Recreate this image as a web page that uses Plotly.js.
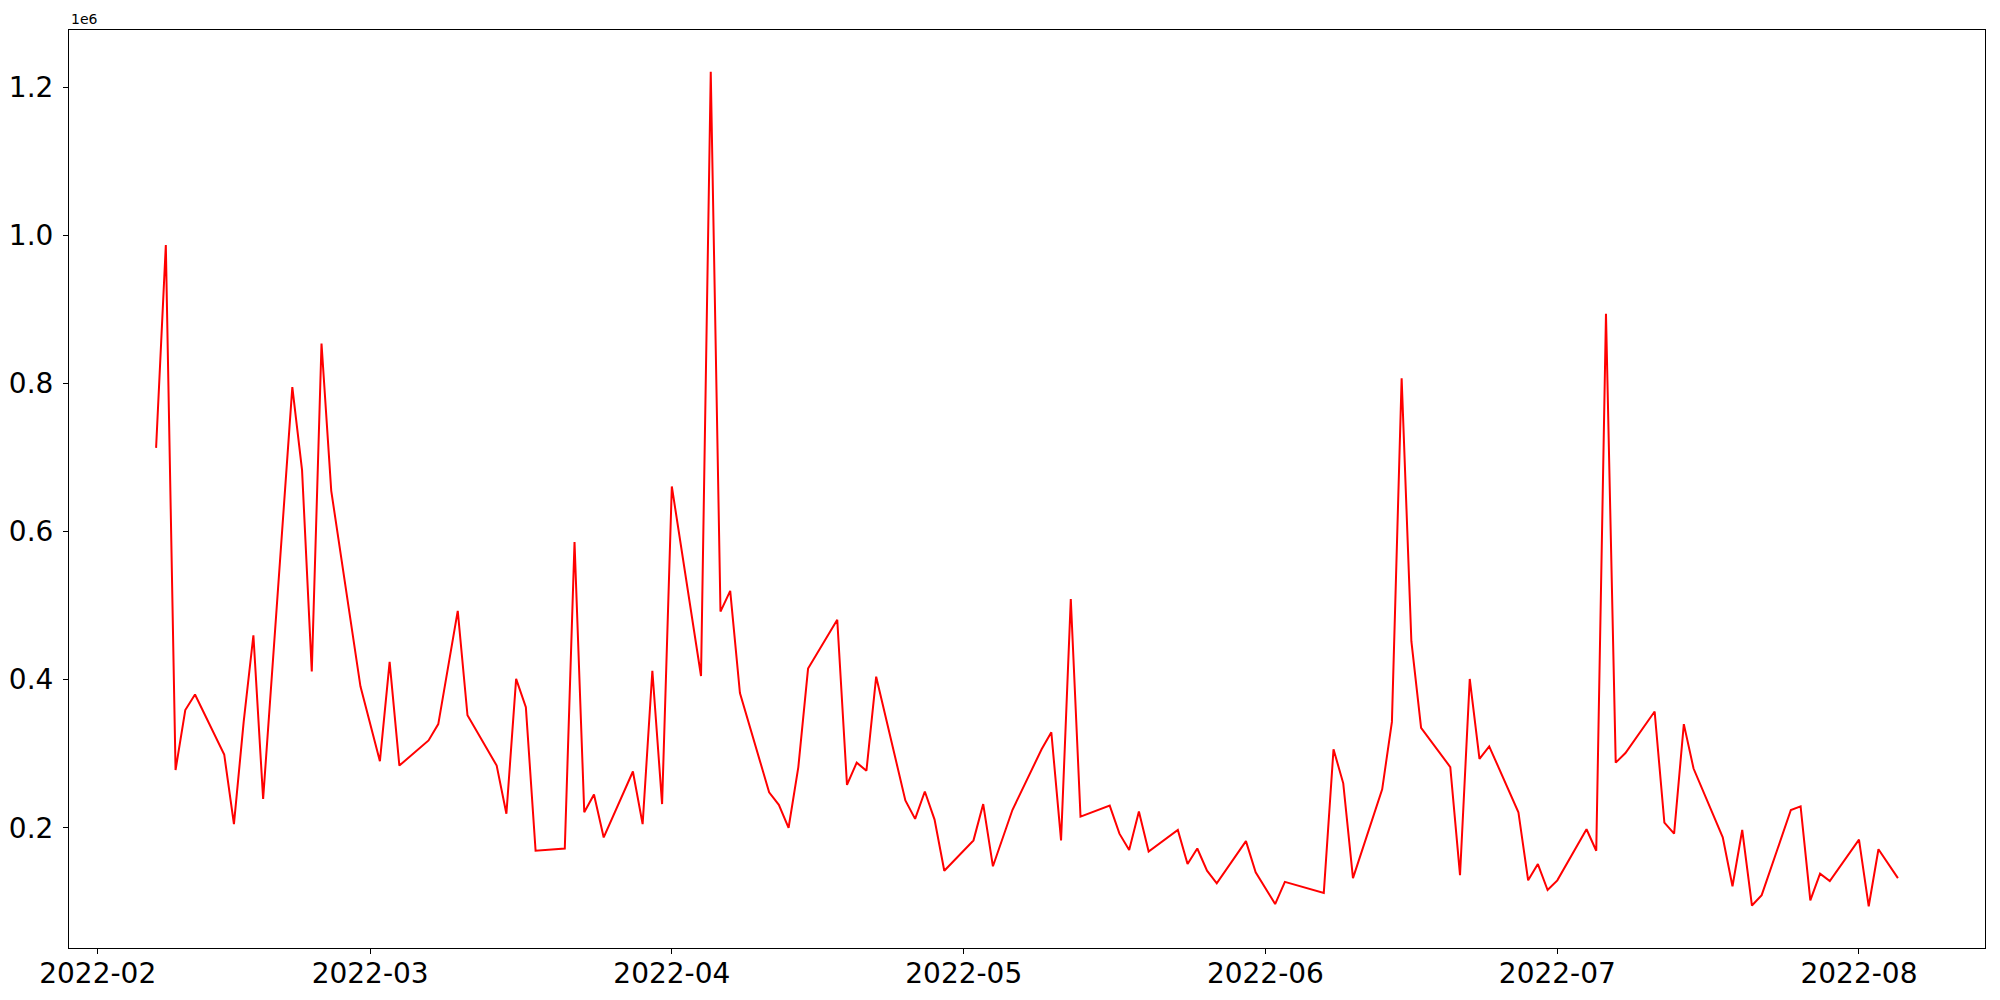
<!DOCTYPE html>
<html>
<head>
<meta charset="utf-8">
<script src="https://cdn.plot.ly/plotly-3.0.1.min.js"></script>
<style>
  html, body { margin: 0; padding: 0; background: #ffffff; }
  #chart { width: 2000px; height: 1000px; }
</style>
</head>
<body>
<div id="chart"></div>
<script>
// Dates (trading days)
const dates = [
  "2022-02-07","2022-02-08","2022-02-09","2022-02-10","2022-02-11",
  "2022-02-14","2022-02-15","2022-02-16","2022-02-17","2022-02-18",
  "2022-02-21","2022-02-22","2022-02-23","2022-02-24","2022-02-25",
  "2022-02-28","2022-03-02","2022-03-03","2022-03-04",
  "2022-03-07","2022-03-08","2022-03-10","2022-03-11",
  "2022-03-14","2022-03-15","2022-03-16","2022-03-17","2022-03-18",
  "2022-03-21","2022-03-22","2022-03-23","2022-03-24","2022-03-25",
  "2022-03-28","2022-03-29","2022-03-30","2022-03-31","2022-04-01",
  "2022-04-04","2022-04-05","2022-04-06","2022-04-07","2022-04-08",
  "2022-04-11","2022-04-12","2022-04-13","2022-04-14","2022-04-15",
  "2022-04-18","2022-04-19","2022-04-20","2022-04-21","2022-04-22",
  "2022-04-25","2022-04-26","2022-04-27","2022-04-28","2022-04-29",
  "2022-05-02","2022-05-03","2022-05-04","2022-05-06",
  "2022-05-09","2022-05-10","2022-05-11","2022-05-12","2022-05-13",
  "2022-05-16","2022-05-17","2022-05-18","2022-05-19","2022-05-20",
  "2022-05-23","2022-05-24","2022-05-25","2022-05-26","2022-05-27",
  "2022-05-30","2022-05-31","2022-06-02","2022-06-03",
  "2022-06-07","2022-06-08","2022-06-09","2022-06-10",
  "2022-06-13","2022-06-14","2022-06-15","2022-06-16","2022-06-17",
  "2022-06-20","2022-06-21","2022-06-22","2022-06-23","2022-06-24",
  "2022-06-27","2022-06-28","2022-06-29","2022-06-30","2022-07-01",
  "2022-07-04","2022-07-05","2022-07-06","2022-07-07","2022-07-08",
  "2022-07-11","2022-07-12","2022-07-13","2022-07-14","2022-07-15",
  "2022-07-18","2022-07-19","2022-07-20","2022-07-21","2022-07-22",
  "2022-07-25","2022-07-26","2022-07-27","2022-07-28","2022-07-29",
  "2022-08-01","2022-08-02","2022-08-03","2022-08-05"
];

// Values in units of 1e6
const valuesMillions = [
  0.713,0.987,0.278,0.359,0.380,
  0.299,0.205,0.343,0.460,0.239,
  0.795,0.683,0.411,0.854,0.655,
  0.391,0.290,0.424,0.284,
  0.318,0.340,0.493,0.352,
  0.284,0.219,0.401,0.363,0.169,
  0.172,0.586,0.221,0.245,0.187,
  0.276,0.205,0.412,0.232,0.661,
  0.405,1.221,0.492,0.520,0.382,
  0.248,0.231,0.200,0.282,0.415,
  0.481,0.258,0.288,0.277,0.404,
  0.237,0.212,0.249,0.211,0.142,
  0.183,0.232,0.148,0.224,
  0.306,0.329,0.183,0.509,0.215,
  0.230,0.192,0.170,0.222,0.168,
  0.197,0.151,0.172,0.142,0.125,
  0.182,0.140,0.097,0.127,
  0.112,0.306,0.260,0.132,
  0.252,0.343,0.807,0.452,0.335,
  0.282,0.136,0.401,0.293,0.310,
  0.221,0.129,0.151,0.116,0.129,
  0.198,0.169,0.894,0.288,0.301,
  0.357,0.207,0.192,0.340,0.280,
  0.187,0.121,0.197,0.095,0.109,
  0.224,0.229,0.102,0.138,0.128,
  0.184,0.094,0.171,0.132
];

const yTickVals = [0.2, 0.4, 0.6, 0.8, 1.0, 1.2];
const yTickText = ["0.2", "0.4", "0.6", "0.8", "1.0", "1.2"];
const offsetLabel = "1e6";

const scale = 1e6;
const values = valuesMillions.map(v => v * scale);

// Axis ranges with 5% margins (matplotlib-like autoscaling)
const t0 = Date.parse(dates[0] + "T00:00:00Z");
const t1 = Date.parse(dates[dates.length - 1] + "T00:00:00Z");
const tPad = 0.05 * (t1 - t0);
const fmt = t => new Date(t).toISOString().replace("T", " ").replace("Z", "").slice(0, 19);
const vMin = Math.min(...values), vMax = Math.max(...values);
const vPad = 0.05 * (vMax - vMin);

const font = { family: "DejaVu Sans, sans-serif", size: 28, color: "#000000" };

const trace = {
  type: "scatter",
  mode: "lines",
  x: dates,
  y: values,
  line: { color: "#ff0000", width: 2 },
  hoverinfo: "x+y"
};

const layout = {
  width: 2000,
  height: 1000,
  paper_bgcolor: "#ffffff",
  plot_bgcolor: "#ffffff",
  margin: { l: 69, r: 15, t: 30, b: 52, pad: 0 },
  showlegend: false,
  font: font,
  xaxis: {
    type: "date",
    range: [fmt(t0 - tPad), fmt(t1 + tPad)],
    tick0: "2022-02-01",
    dtick: "M1",
    tickformat: "%Y-%m",
    ticks: "outside",
    ticklen: 5,
    tickwidth: 1,
    tickcolor: "#000000",
    showgrid: false,
    zeroline: false,
    showline: true,
    linecolor: "#000000",
    linewidth: 1,
    mirror: true,
    tickfont: font,
    ticklabelstandoff: -5
  },
  yaxis: {
    range: [vMin - vPad, vMax + vPad],
    tickmode: "array",
    tickvals: yTickVals.map(v => v * scale),
    ticktext: yTickText,
    ticks: "outside",
    ticklen: 5,
    tickwidth: 1,
    tickcolor: "#000000",
    showgrid: false,
    zeroline: false,
    showline: true,
    linecolor: "#000000",
    linewidth: 1,
    mirror: true,
    tickfont: font,
    ticklabelstandoff: 4
  },
  annotations: [{
    text: offsetLabel,
    xref: "paper", yref: "paper",
    x: 0, y: 1,
    xanchor: "left", yanchor: "bottom",
    xshift: 0, yshift: 1,
    showarrow: false,
    font: { family: "DejaVu Sans, sans-serif", size: 14, color: "#000000" }
  }]
};

Plotly.newPlot("chart", [trace], layout, { displayModeBar: false, staticPlot: true });
</script>
</body>
</html>
